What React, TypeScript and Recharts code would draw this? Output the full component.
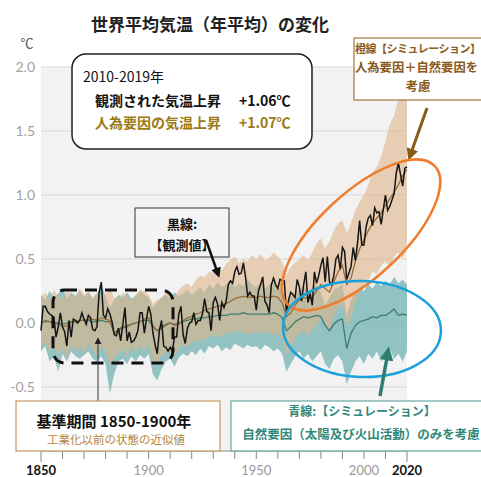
import React from 'react';
import { ComposedChart, Area, Line, XAxis, YAxis, CartesianGrid } from 'recharts';

// observed annual anomaly vs 1850-1900, 1850..2020
const observed = [
  -0.06, 0.13, 0.13, 0.09, 0.07, 0.06, 0.04, -0.11, -0.03, 0.08,
  -0.03, -0.07, -0.18, 0.02, -0.11, 0.03, 0.02, 0.0, 0.02, 0.08,
  0.03, -0.01, 0.06, 0.04, -0.05, -0.06, -0.03, 0.24, 0.32, 0.06,
  0.04, 0.11, 0.07, 0.01, -0.09, -0.1, -0.04, -0.14, -0.01, 0.12,
  -0.14, -0.07, -0.15, -0.14, -0.11, -0.06, 0.08, 0.08, -0.08, 0.03,
  0.13, 0.07, -0.08, -0.17, -0.24, -0.06, 0.02, -0.18, -0.19, -0.22,
  -0.19, -0.22, -0.11, -0.11, 0.07, 0.13, -0.09, -0.16, -0.04, 0.0,
  0.01, 0.08, -0.01, 0.02, 0.02, 0.07, 0.19, 0.09, 0.08, -0.06,
  0.16, 0.2, 0.15, 0.02, 0.16, 0.12, 0.17, 0.3, 0.33, 0.31,
  0.4, 0.44, 0.38, 0.39, 0.47, 0.36, 0.21, 0.24, 0.21, 0.21,
  0.1, 0.25, 0.3, 0.36, 0.17, 0.14, 0.08, 0.3, 0.35, 0.3,
  0.27, 0.34, 0.33, 0.33, 0.08, 0.18, 0.24, 0.22, 0.2, 0.34,
  0.28, 0.17, 0.3, 0.4, 0.16, 0.23, 0.14, 0.4, 0.31, 0.37,
  0.45, 0.51, 0.32, 0.52, 0.32, 0.3, 0.37, 0.5, 0.53, 0.42,
  0.59, 0.56, 0.34, 0.39, 0.44, 0.59, 0.49, 0.62, 0.8, 0.61,
  0.61, 0.75, 0.82, 0.84, 0.76, 0.9, 0.86, 0.87, 0.77, 0.89,
  1.0, 0.88, 0.91, 0.96, 1.01, 1.17, 1.25, 1.16, 1.07, 1.21,
  1.22,
];

// simulations, every 2nd year 1850..2020
const humanNaturalMean = [
  0.0, 0.02, 0.01, 0.0, -0.01, -0.03, -0.02, 0.0, 0.01, 0.02,
  0.02, 0.03, 0.03, 0.02, 0.04, 0.03, 0.02, -0.08, -0.06, -0.04,
  -0.03, -0.01, 0.0, 0.01, 0.03, 0.04, -0.02, -0.06, -0.04, -0.02,
  0.0, -0.02, -0.01, 0.02, 0.04, 0.05, 0.07, 0.08, 0.1, 0.11,
  0.12, 0.13, 0.14, 0.15, 0.17, 0.19, 0.2, 0.21, 0.2, 0.2,
  0.2, 0.21, 0.2, 0.2, 0.21, 0.2, 0.16, 0.05, 0.08, 0.14,
  0.18, 0.2, 0.19, 0.2, 0.25, 0.3, 0.27, 0.24, 0.32, 0.4,
  0.45, 0.3, 0.35, 0.48, 0.58, 0.65, 0.72, 0.78, 0.82, 0.86,
  0.92, 0.97, 1.02, 1.08, 1.15, 1.2,
];
const humanNaturalLow = [
  -0.2, -0.15, -0.22, -0.18, -0.25, -0.2, -0.28, -0.17, -0.22, -0.19,
  -0.24, -0.16, -0.21, -0.26, -0.18, -0.22, -0.33, -0.27, -0.24, -0.2,
  -0.26, -0.19, -0.23, -0.18, -0.21, -0.17, -0.3, -0.32, -0.25, -0.24,
  -0.22, -0.26, -0.2, -0.17, -0.19, -0.14, -0.16, -0.12, -0.14, -0.1,
  -0.11, -0.08, -0.12, -0.07, -0.09, -0.05, -0.08, -0.06, -0.1, -0.07,
  -0.09, -0.06, -0.08, -0.07, -0.1, -0.08, -0.12, -0.25, -0.2, -0.12,
  -0.08, -0.06, -0.1, -0.05, -0.02, 0.04, -0.02, -0.06, 0.06, 0.12,
  0.14, -0.02, 0.04, 0.16, 0.24, 0.3, 0.33, 0.4, 0.38, 0.45,
  0.48, 0.44, 0.52, 0.55, 0.5, 0.58,
];
const humanNaturalHigh = [
  0.2, 0.24, 0.18, 0.26, 0.21, 0.19, 0.25, 0.22, 0.2, 0.27,
  0.22, 0.25, 0.2, 0.24, 0.21, 0.23, 0.28, 0.2, 0.19, 0.24,
  0.21, 0.18, 0.22, 0.26, 0.25, 0.22, 0.15, 0.18, 0.2, 0.24,
  0.23, 0.2, 0.26, 0.29, 0.31, 0.28, 0.34, 0.37, 0.36, 0.4,
  0.39, 0.44, 0.41, 0.46, 0.49, 0.52, 0.47, 0.5, 0.48, 0.53,
  0.5, 0.54, 0.49, 0.51, 0.55, 0.52, 0.48, 0.38, 0.44, 0.47,
  0.5, 0.53, 0.49, 0.55, 0.62, 0.66, 0.58, 0.64, 0.72, 0.78,
  0.8, 0.7, 0.78, 0.88, 0.95, 1.0, 1.08, 1.18, 1.22, 1.3,
  1.42, 1.55, 1.62, 1.75, 1.92, 1.88,
];
const naturalMean = [
  0.0, 0.01, 0.01, 0.0, 0.0, -0.01, 0.0, 0.01, 0.01, 0.02,
  0.02, 0.02, 0.01, 0.01, 0.02, 0.01, 0.01, -0.08, -0.05, -0.03,
  -0.02, -0.01, 0.0, 0.01, 0.02, 0.02, -0.03, -0.06, -0.03, -0.01,
  0.0, -0.01, 0.0, 0.01, 0.02, 0.03, 0.03, 0.04, 0.04, 0.05,
  0.05, 0.06, 0.06, 0.06, 0.07, 0.07, 0.07, 0.08, 0.07, 0.07,
  0.07, 0.07, 0.07, 0.07, 0.08, 0.07, 0.04, -0.06, -0.03, 0.01,
  0.03, 0.05, 0.04, 0.05, 0.06, 0.05, -0.02, -0.06, -0.01, 0.02,
  0.03, -0.2, -0.08, -0.02, 0.01, 0.02, 0.03, 0.05, 0.04, 0.06,
  0.06, 0.08, 0.11, 0.06, 0.07, 0.06,
];
const naturalLow = [
  -0.22, -0.18, -0.3, -0.26, -0.38, -0.24, -0.3, -0.22, -0.26, -0.28,
  -0.25, -0.22, -0.28, -0.3, -0.26, -0.32, -0.55, -0.4, -0.3, -0.28,
  -0.32, -0.26, -0.3, -0.25, -0.28, -0.24, -0.4, -0.45, -0.36, -0.3,
  -0.28, -0.34, -0.27, -0.24, -0.26, -0.22, -0.25, -0.2, -0.24, -0.18,
  -0.2, -0.17, -0.22, -0.19, -0.21, -0.16, -0.18, -0.2, -0.17, -0.19,
  -0.18, -0.21, -0.17, -0.19, -0.22, -0.2, -0.24, -0.38, -0.32, -0.26,
  -0.22, -0.28, -0.24, -0.3, -0.26, -0.22, -0.32, -0.36, -0.28, -0.25,
  -0.3, -0.48, -0.38, -0.3, -0.26, -0.32, -0.24, -0.28, -0.22, -0.3,
  -0.26, -0.2, -0.28, -0.24, -0.3, -0.22,
];
const naturalHigh = [
  0.22, 0.18, 0.25, 0.2, 0.23, 0.28, 0.19, 0.24, 0.21, 0.26,
  0.2, 0.24, 0.19, 0.22, 0.3, 0.21, 0.12, 0.18, 0.22, 0.2,
  0.24, 0.19, 0.21, 0.25, 0.22, 0.2, 0.12, 0.16, 0.2, 0.22,
  0.19, 0.24, 0.21, 0.23, 0.26, 0.22, 0.25, 0.28, 0.24, 0.3,
  0.27, 0.32, 0.28, 0.3, 0.33, 0.28, 0.31, 0.29, 0.34, 0.3,
  0.28, 0.31, 0.27, 0.3, 0.32, 0.28, 0.26, 0.15, 0.2, 0.24,
  0.26, 0.29, 0.25, 0.28, 0.3, 0.24, 0.14, 0.2, 0.26, 0.28,
  0.3, 0.05, 0.18, 0.24, 0.28, 0.25, 0.3, 0.27, 0.32, 0.29,
  0.33, 0.3, 0.36, 0.31, 0.34, 0.3,
];

const FIRST_YEAR = 1850;
const yearTicks = [1850, 1860, 1870, 1880, 1890, 1900, 1910, 1920, 1930, 1940, 1950, 1960, 1970, 1980, 1990, 2000, 2010, 2020];
const labelledYears = [1850, 1900, 1950, 2000, 2020];
const boldYears = [1850, 2020];
const tempTicks = [-0.5, 0, 0.5, 1.0, 1.5, 2.0];

const rows = observed.map((v, i) => {
  const row: any = { year: FIRST_YEAR + i, obs: v };
  if (i % 2 === 0) {
    const j = i / 2;
    row.hnMean = humanNaturalMean[j];
    row.natMean = naturalMean[j];
    row.hnBand = [humanNaturalLow[j], humanNaturalHigh[j]];
    row.natBand = [naturalLow[j], naturalHigh[j]];
  }
  return row;
});

const JP = '"Noto Sans CJK JP", "Noto Sans", sans-serif';

const YearTick = (props: any) => {
  const { x, y, payload } = props;
  const yr = payload.value;
  const major = boldYears.includes(yr);
  return (
    <g>
      <line x1={x} x2={x} y1={y - 3} y2={major ? y + 9 : y + 6} stroke="#888" strokeWidth={1} />
      {labelledYears.includes(yr) && (
        <text
          x={x}
          y={y + 22}
          textAnchor="middle"
          fontFamily="Lato, sans-serif"
          fontSize={13}
          fontWeight={major ? 700 : 400}
          fill={major ? '#111' : '#999'}
        >
          {yr}
        </text>
      )}
    </g>
  );
};

export default function App() {
  return (
    <div style={{ position: 'absolute', left: 0, top: 0, width: 481, height: 477, background: '#fff' }}>
      <ComposedChart width={481} height={477} data={rows} margin={{ top: 67, right: 74, bottom: 0, left: 0 }}>
        <CartesianGrid vertical={false} stroke="#d9d9d9" fill="#f2f2f2" />
        <XAxis
          dataKey="year"
          type="number"
          domain={[1850, 2020]}
          ticks={yearTicks}
          height={26}
          tickLine={false}
          tickSize={0}
          axisLine={{ stroke: '#999' }}
          tick={<YearTick />}
          interval={0}
        />
        <YAxis
          type="number"
          domain={[-1, 2]}
          ticks={tempTicks}
          width={41}
          axisLine={false}
          tickLine={false}
          tickSize={4}
          tickFormatter={(v: number) => v.toFixed(1)}
          tick={{ fill: '#a3a3a3', fontSize: 14, fontFamily: 'Lato, sans-serif' }}
        />
        <Area type="linear" dataKey="natBand" fill="#6aaeae" fillOpacity={0.7} stroke="none" connectNulls isAnimationActive={false} />
        <Area type="linear" dataKey="hnBand" fill="#e0b48a" fillOpacity={0.6} stroke="none" connectNulls isAnimationActive={false} />
        <Line type="linear" dataKey="natMean" stroke="#3d7d6e" strokeWidth={1.3} dot={false} connectNulls isAnimationActive={false} />
        <Line type="linear" dataKey="hnMean" stroke="#9a6b38" strokeWidth={1.3} dot={false} connectNulls isAnimationActive={false} />
        <Line type="linear" dataKey="obs" stroke="#151515" strokeWidth={1.5} dot={false} isAnimationActive={false} />
      </ComposedChart>

      <svg width={481} height={477} style={{ position: 'absolute', left: 0, top: 0, pointerEvents: 'none' }}>
        <defs>
          <marker id="ah-black" viewBox="0 0 10 10" refX="6" refY="5" markerWidth="4" markerHeight="4" orient="auto">
            <path d="M0,0 L10,5 L0,10 z" fill="#111" />
          </marker>
          <marker id="ah-brown" viewBox="0 0 10 10" refX="6" refY="5" markerWidth="4" markerHeight="4" orient="auto">
            <path d="M0,0 L10,5 L0,10 z" fill="#8b5a1a" />
          </marker>
          <marker id="ah-teal" viewBox="0 0 10 10" refX="6" refY="5" markerWidth="4" markerHeight="4" orient="auto">
            <path d="M0,0 L10,5 L0,10 z" fill="#2d7d70" />
          </marker>
          <marker id="ah-thin" viewBox="0 0 10 10" refX="6" refY="5" markerWidth="7" markerHeight="7" orient="auto">
            <path d="M0,0 L10,5 L0,10 z" fill="#222" />
          </marker>
        </defs>

        <text x={210} y={31} textAnchor="middle" fontFamily={JP} fontSize={17} fontWeight={700} fill="#222">
          世界平均気温（年平均）の変化
        </text>
        <text x={27} y={48} textAnchor="middle" fontFamily={JP} fontSize={13} fill="#555">℃</text>

        {/* summary box */}
        <rect x={72} y={54} width={240} height={95} rx={14} fill="#fff" stroke="#222" strokeWidth={1.5} />
        <text x={83} y={82} fontFamily={JP} fontSize={14} fill="#111">2010-2019年</text>
        <text x={95} y={106} fontFamily={JP} fontSize={14} fontWeight={700} fill="#111">観測された気温上昇</text>
        <text x={239} y={106} fontFamily={JP} fontSize={14} fontWeight={700} fill="#111">+1.06℃</text>
        <text x={95} y={128} fontFamily={JP} fontSize={14} fontWeight={700} fill="#9c7a14">人為要因の気温上昇</text>
        <text x={239} y={128} fontFamily={JP} fontSize={14} fontWeight={700} fill="#9c7a14">+1.07℃</text>

        {/* orange sim label */}
        <rect x={354} y={38} width={140} height={62} fill="#fff" stroke="#a2733b" strokeWidth={1.2} />
        <text x={355} y={53} fontFamily={JP} fontSize={11} letterSpacing={-0.5} fontWeight={700} fill="#8a5a20">橙線【シミュレーション】</text>
        <text x={355} y={72} fontFamily={JP} fontSize={12.3} fontWeight={700} fill="#8a5a20">人為要因＋自然要因を</text>
        <text x={418} y={91} textAnchor="middle" fontFamily={JP} fontSize={12.5} fontWeight={700} fill="#8a5a20">考慮</text>
        <line x1={427} y1={108} x2={410} y2={156} stroke="#8b5a1a" strokeWidth={3} markerEnd="url(#ah-brown)" />

        {/* observed label */}
        <rect x={135} y={208} width={94} height={49} fill="#f4f4f4" stroke="#333" strokeWidth={1} />
        <text x={182} y={229} textAnchor="middle" fontFamily={JP} fontSize={13} fontWeight={700} fill="#111">黒線:</text>
        <text x={182} y={250} textAnchor="middle" fontFamily={JP} fontSize={13} fontWeight={700} fill="#111">【観測値】</text>
        <line x1={206} y1={240} x2={218} y2={274} stroke="#111" strokeWidth={2.5} markerEnd="url(#ah-black)" />

        {/* ellipses */}
        <ellipse cx={361} cy={235} rx={101} ry={42} transform="rotate(-43 361 235)" fill="none" stroke="#ef7d2e" strokeWidth={2.5} />
        <ellipse cx={362} cy={329} rx={79} ry={48} transform="rotate(2 362 329)" fill="none" stroke="#1aa0dc" strokeWidth={2.5} />
        <line x1={380} y1={396} x2={388} y2={352} stroke="#2d7d70" strokeWidth={3.5} markerEnd="url(#ah-teal)" />

        {/* baseline period */}
        <rect x={53} y={290} width={120} height={73} rx={12} fill="none" stroke="#111" strokeWidth={3} strokeDasharray="12 8" />
        <line x1={98} y1={401} x2={98} y2={340} stroke="#333" strokeWidth={1} markerEnd="url(#ah-thin)" />

        {/* bottom notes */}
        <rect x={16} y={401} width={204} height={50} fill="#fff" stroke="#c49a60" strokeWidth={1.2} />
        <text x={114} y={427} textAnchor="middle" fontFamily={JP} fontSize={15} fontWeight={700} fill="#111">基準期間  1850-1900年</text>
        <text x={116} y={444} textAnchor="middle" fontFamily={JP} fontSize={11.5} fill="#b5843f">工業化以前の状態の近似値</text>

        <rect x={231} y={401} width={262} height={50} fill="#fff" stroke="#6aa8a4" strokeWidth={1.2} />
        <text x={362} y={416} textAnchor="middle" fontFamily={JP} fontSize={12} fontWeight={700} fill="#2f8878">青線:【シミュレーション】</text>
        <text x={361} y={439} textAnchor="middle" fontFamily={JP} fontSize={12.5} fontWeight={700} fill="#2f8878">自然要因（太陽及び火山活動）のみを考慮</text>
      </svg>
    </div>
  );
}
